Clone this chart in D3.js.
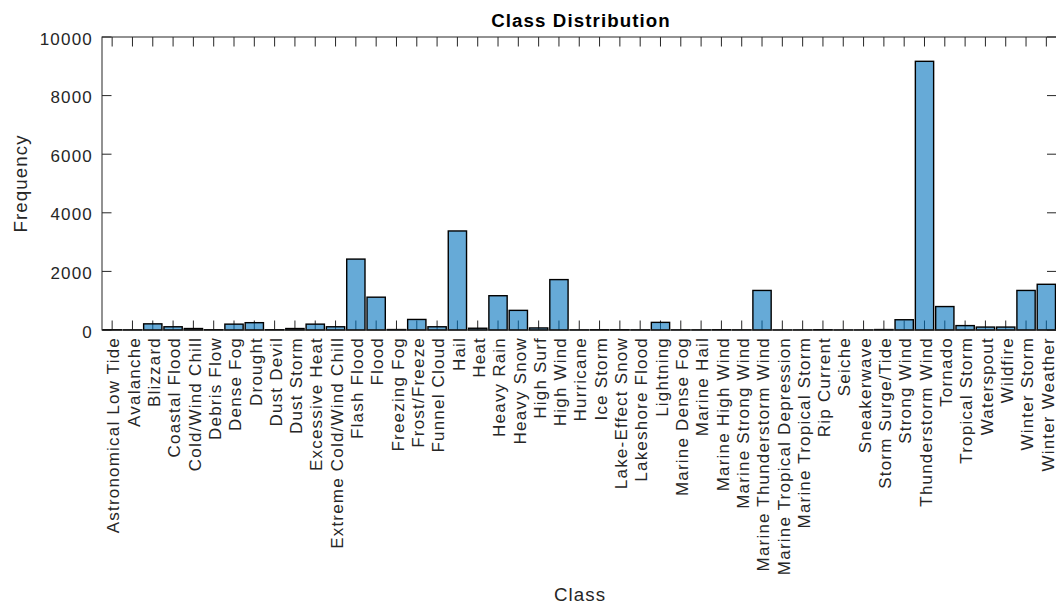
<!DOCTYPE html>
<html>
<head>
<meta charset="utf-8">
<script src="https://cdn.jsdelivr.net/npm/d3@7"></script>
<style>
  html, body { margin: 0; padding: 0; background: #fff; }
  svg { display: block; font-family: "Liberation Sans", Arial, Helvetica, sans-serif; }
</style>
</head>
<body>
<svg id="chart" width="1056" height="604"></svg>
<script>
const categories = [
  "Astronomical Low Tide", "Avalanche", "Blizzard", "Coastal Flood", "Cold/Wind Chill",
  "Debris Flow", "Dense Fog", "Drought", "Dust Devil", "Dust Storm", "Excessive Heat",
  "Extreme Cold/Wind Chill", "Flash Flood", "Flood", "Freezing Fog", "Frost/Freeze",
  "Funnel Cloud", "Hail", "Heat", "Heavy Rain", "Heavy Snow", "High Surf", "High Wind",
  "Hurricane", "Ice Storm", "Lake-Effect Snow", "Lakeshore Flood", "Lightning",
  "Marine Dense Fog", "Marine Hail", "Marine High Wind", "Marine Strong Wind",
  "Marine Thunderstorm Wind", "Marine Tropical Depression", "Marine Tropical Storm",
  "Rip Current", "Seiche", "Sneakerwave", "Storm Surge/Tide", "Strong Wind",
  "Thunderstorm Wind", "Tornado", "Tropical Storm", "Waterspout", "Wildfire",
  "Winter Storm", "Winter Weather"
];
const frequencies = [
  10, 5, 210, 110, 50,
  10, 200, 250, 10, 50, 200,
  110, 2420, 1120, 15, 360,
  110, 3380, 60, 1170, 670, 70, 1720,
  5, 10, 10, 5, 260,
  5, 5, 10, 5,
  1350, 2, 3,
  10, 2, 2, 15, 350,
  9170, 800, 150, 100, 100,
  1350, 1560
];
const yTicks = [0, 2000, 4000, 6000, 8000, 10000];
const titleText = "Class Distribution";
const xLabelText = "Class";
const yLabelText = "Frequency";

(function () {
const svg = d3.select("#chart");
const pL = 102, pR = 1056.5, pT = 37, pB = 330;
const axisColor = "#262626";
const tickLen = 9.5;
const fontSize = 17, labelSize = 18.7, ls = 1.2;

const x = d3.scaleBand().domain(categories).range([pL, pR]).paddingInner(0.1).paddingOuter(0.05);
const xc = d => x(d) + x.bandwidth() / 2;
const y = d3.scaleLinear().domain([0, 10000]).range([pB, pT]);

// ticks (drawn under bars)
const g = svg.append("g");
g.selectAll("line.xb").data(categories).enter().append("line")
  .attr("x1", d => xc(d)).attr("x2", d => xc(d))
  .attr("y1", pB).attr("y2", pB - tickLen)
  .attr("stroke", axisColor).attr("stroke-width", 1);
g.selectAll("line.xt").data(categories).enter().append("line")
  .attr("x1", d => xc(d)).attr("x2", d => xc(d))
  .attr("y1", pT).attr("y2", pT + tickLen)
  .attr("stroke", axisColor).attr("stroke-width", 1);
g.selectAll("line.yl").data(yTicks).enter().append("line")
  .attr("x1", pL).attr("x2", pL + tickLen)
  .attr("y1", d => y(d)).attr("y2", d => y(d))
  .attr("stroke", axisColor).attr("stroke-width", 1);
g.selectAll("line.yr").data(yTicks).enter().append("line")
  .attr("x1", pR).attr("x2", pR - tickLen)
  .attr("y1", d => y(d)).attr("y2", d => y(d))
  .attr("stroke", axisColor).attr("stroke-width", 1);

// bars
svg.append("g").selectAll("rect").data(categories).enter().append("rect")
  .attr("x", d => x(d))
  .attr("width", x.bandwidth())
  .attr("y", (d, i) => y(frequencies[i]))
  .attr("height", (d, i) => y(0) - y(frequencies[i]))
  .attr("fill", "rgb(0,114,189)")
  .attr("fill-opacity", 0.6)
  .attr("stroke", "#000")
  .attr("stroke-width", 1.4);

// box
svg.append("rect")
  .attr("x", pL).attr("y", pT)
  .attr("width", pR - pL).attr("height", pB - pT)
  .attr("fill", "none").attr("stroke", axisColor).attr("stroke-width", 1);

// y tick labels
svg.append("g").selectAll("text").data(yTicks).enter().append("text")
  .attr("x", 93).attr("y", d => y(d) + 7.6)
  .attr("text-anchor", "end")
  .attr("font-size", fontSize).attr("letter-spacing", ls)
  .attr("fill", axisColor)
  .text(d => d);

// x tick labels
svg.append("g").selectAll("text").data(categories).enter().append("text")
  .attr("transform", d => `translate(${xc(d) + 7.2},337) rotate(-90)`)
  .attr("text-anchor", "end")
  .attr("font-size", fontSize).attr("letter-spacing", ls)
  .attr("fill", axisColor)
  .text(d => d);

// title
svg.append("text")
  .attr("x", 581).attr("y", 26.5)
  .attr("text-anchor", "middle")
  .attr("font-size", labelSize).attr("font-weight", "bold").attr("letter-spacing", 1.1)
  .attr("fill", "#000")
  .text(titleText);

// axis labels
svg.append("text")
  .attr("x", 580).attr("y", 601)
  .attr("text-anchor", "middle")
  .attr("font-size", labelSize).attr("letter-spacing", 1.1)
  .attr("fill", axisColor)
  .text(xLabelText);

svg.append("text")
  .attr("transform", `translate(27,${(pT + pB) / 2}) rotate(-90)`)
  .attr("text-anchor", "middle")
  .attr("font-size", labelSize).attr("letter-spacing", 1.1)
  .attr("fill", axisColor)
  .text(yLabelText);
})();
</script>
</body>
</html>
